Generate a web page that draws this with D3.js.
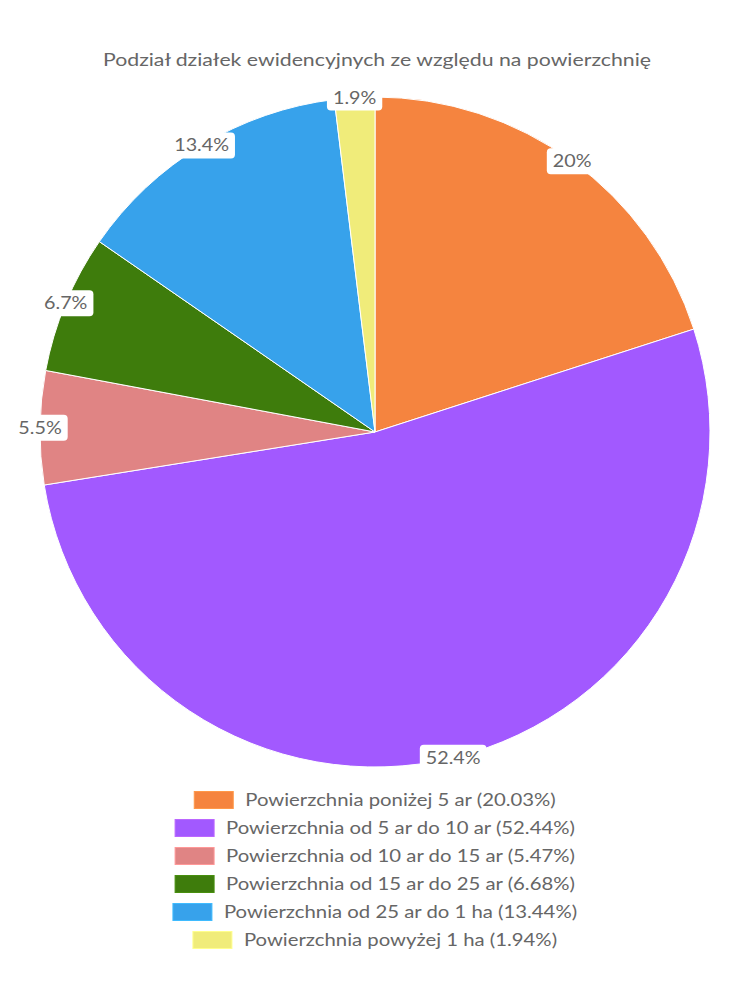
<!DOCTYPE html>
<html><head><meta charset="utf-8">
<script src="https://cdn.jsdelivr.net/npm/d3@7"></script>
<style>body{margin:0;background:#fff}svg{display:block}</style>
</head><body>
<svg id="c" width="750" height="1000"></svg>
<script>
const title = "Podział działek ewidencyjnych ze względu na powierzchnię";
const categories = ["Powierzchnia poniżej 5 ar","Powierzchnia od 5 ar do 10 ar","Powierzchnia od 10 ar do 15 ar","Powierzchnia od 15 ar do 25 ar","Powierzchnia od 25 ar do 1 ha","Powierzchnia powyżej 1 ha"];
const values = [20.03, 52.44, 5.47, 6.68, 13.44, 1.94];
const colors = ["#f5843f","#a259ff","#e08484","#3e7c0c","#37a2eb","#f0ec7a"];

const svg = d3.select("#c");
const font = "Lato, 'Noto Sans', sans-serif";
const cx = 375, cy = 432, R = 335;
const widen = 1.16;

svg.append("text").attr("x", 377).attr("y", 66).attr("text-anchor","middle")
  .attr("font-family", font).attr("font-size", 17).attr("fill","#666")
  .attr("textLength", 548).attr("lengthAdjust","spacingAndGlyphs").text(title);

const pie = d3.pie().sort(null).value(d => d)(values);
const arc = d3.arc().innerRadius(0).outerRadius(R);
const g = svg.append("g").attr("transform", `translate(${cx},${cy})`);
g.selectAll("path").data(pie).join("path")
  .attr("d", arc).attr("fill", (d,i) => colors[i])
  .attr("stroke","#fff").attr("stroke-width",1);

const labelArc = d3.arc().innerRadius(R).outerRadius(R);
const lg = g.selectAll("g.lbl").data(pie).join("g").attr("class","lbl")
  .attr("transform", d => `translate(${labelArc.centroid(d)})`);
lg.each(function(d){
  const s = d3.select(this);
  const v = +d.value.toFixed(1);
  const t = s.append("text").attr("text-anchor","middle").attr("dy","0.35em")
    .attr("font-family", font).attr("font-size", 17).attr("fill","#666").text(v + "%");
  const w0 = t.node().getComputedTextLength() * widen;
  t.attr("textLength", w0).attr("lengthAdjust","spacingAndGlyphs");
  s.insert("rect","text").attr("x", -w0/2-6).attr("y", -13).attr("width", w0+12)
    .attr("height", 26).attr("rx", 4).attr("fill","#fff");
});

const legY = d3.scaleBand().domain(categories).range([786, 954]);
const leg = svg.append("g");
categories.forEach((c,i) => {
  const label = `${c} (${values[i].toFixed(2)}%)`;
  const row = leg.append("g");
  const t = row.append("text").attr("font-family", font).attr("font-size", 17.5)
    .attr("fill","#666").attr("dy","0.35em").text(label);
  const w = t.node().getComputedTextLength() * widen;
  t.attr("textLength", w).attr("lengthAdjust","spacingAndGlyphs");
  const total = 40 + 11 + w;
  const x0 = 375 - total/2;
  const y = legY(c) + legY.bandwidth()/2;
  t.attr("x", x0 + 51).attr("y", y);
  row.append("rect").attr("x", x0).attr("y", y-8.5).attr("width", 39).attr("height", 17)
    .attr("fill", colors[i]).attr("stroke", d3.color(colors[i]).brighter(0.4)).attr("stroke-width",1);
});
</script>
</body></html>
